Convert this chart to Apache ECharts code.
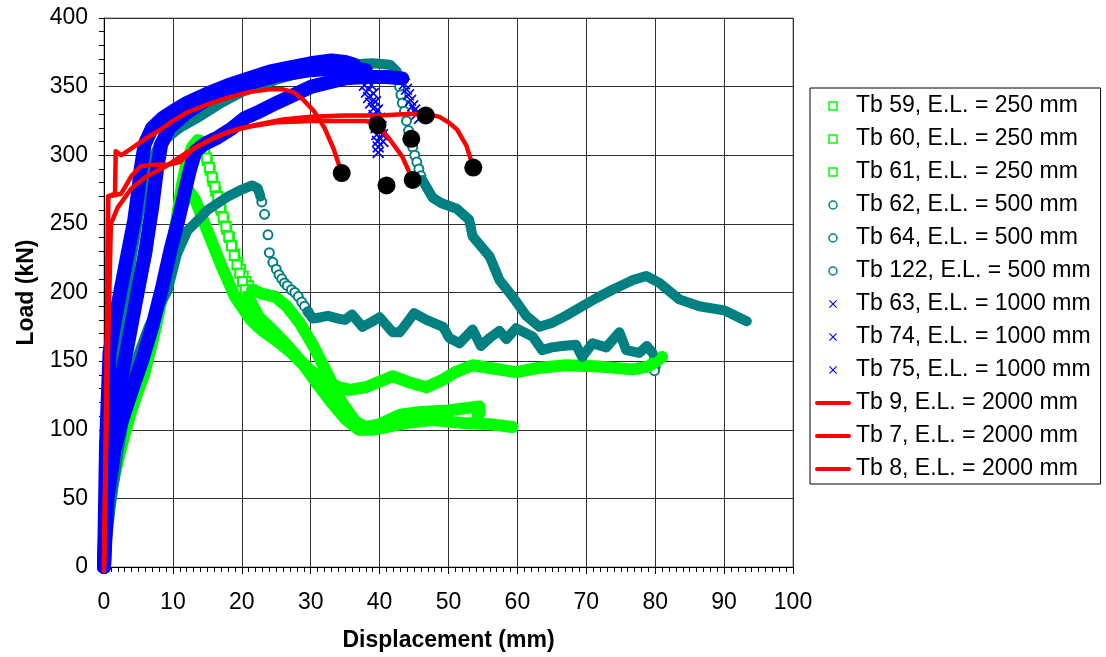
<!DOCTYPE html>
<html>
<head>
<meta charset="utf-8">
<script src="https://cdn.jsdelivr.net/npm/echarts@6/dist/echarts.min.js"></script>
<style>
  html, body { margin: 0; padding: 0; background: #fff; }
  #chart { width: 1106px; height: 657px; }
</style>
</head>
<body>
<div id="chart"></div>
<script>
// Load–displacement curves of tube specimens, grouped by effective length (E.L.)
const X_TICKS = [0, 10, 20, 30, 40, 50, 60, 70, 80, 90, 100];
const Y_TICKS = [0, 50, 100, 150, 200, 250, 300, 350, 400];
const GAP = ['-', '-'];

// E.L. = 250 mm (green squares)
const TB59_BAND = [[0,0],[0.3,30],[0.8,50],[1.6,70],[2.5,90],[3.5,108],[4.5,123],[5.5,138],[6.5,155],[7.5,175],[8.5,200],[9.5,225],[10.5,252],[11.3,278],[12,295],[12.8,306],[13.6,311],[14.2,310],
  GAP,[21.5,202],[23,199],[24.8,197],[26.5,190],[28.4,178],[30.5,160],[32.5,140],[34.5,120],[36.5,106],[38,102],[40,104],[43,111],[46,113],[50,114],[54.5,117],[54.5,112]];
const TB59_MARKS = [[14.6,303],[15,296],[15.4,289],[15.8,281],[16.2,274],[16.6,267],[17,260],[17.4,253],[17.8,246],[18.2,240],[18.6,234],[19,228],[19.4,222],[19.8,217],[20.2,212],[20.6,208],[21,205],[21.5,202],[54.2,116],[54.2,112]];
const TB60_BAND = [[0,0],[0.4,35],[1,55],[1.8,73],[2.7,92],[3.7,110],[4.7,125],[5.8,140],[6.8,160],[7.8,182],[8.8,205],[9.8,230],[10.8,255],[11.6,278],[12.5,298],[13.4,306],[14.3,307],
  GAP,[20.9,197],[22.5,182],[24.8,171],[26.5,162],[28.4,151],[30,143],[32,136],[34,131],[35.7,129],[38,131],[41.9,139],[44,135],[46.8,131],[49,136],[51,142],[53.5,147],[56,145],[59.8,142],[63,145],[67,147],[72,146],[76.7,144],[79,146],[81,153]];
const TB60_MARKS = [[14.9,298],[15.3,291],[15.7,284],[16.1,277],[16.5,270],[16.9,262],[17.3,255],[17.7,248],[18.1,241],[18.5,234],[18.9,227],[19.3,220],[19.7,214],[20.1,208],[20.5,202],[20.9,197]];
const TB61_BAND = [[0,0],[0.5,40],[1.2,60],[2,78],[3,97],[4,115],[5,130],[6,145],[7,165],[8,188],[9,212],[10,238],[11,258],[12.3,274],[13.2,268],[15,245],[17,220],[19,197],[21.3,180],[23,172],[25,165],[27,157],[29,147],[31,133],[33,120],[35,108],[37,100],[39,100],[41,102],[44,105],[47.7,107],[52,105],[56,104],[59.3,102]];

// E.L. = 500 mm (teal circles)
const TB62_BAND = [[0,0],[1,45],[2,80],[3,110],[4,135],[5,155],[6.5,175],[8,190],[9.2,201],[10.6,228],[12.1,245],[13.5,252],[15,260],[18,270],[20,275],[21.5,278],[22.3,276],[22.7,270],
  GAP,[29.6,186],[30.3,181],[31.5,182],[32.5,183],[34,181],[35,180],[36,184],[37.5,175],[39,179],[40,182],[41.9,171],[42.9,171],[44,178],[45,185],[46.8,180],[49.2,175],[50.1,167],[51.6,163],[53.5,173],[54.7,161],[56,167],[57.4,172],[58.4,166],[59.8,174],[62.2,168],[63.6,158],[65,160],[66.5,161],[68.5,162],[69.4,153],[70.9,163],[72.9,160],[74.8,171],[75.8,158],[77.7,156],[78.8,161],[79.6,156]];
const TB62_MARKS = [[22.9,266],[23.3,257],[23.8,242],[24,229],[24.5,222],[25,217],[25.4,213],[25.8,210],[26.2,207],[26.6,205],[27.2,202],[27.7,200],[28.2,197],[28.7,193],[29.1,190],[29.6,186],[79.9,152],[80,149],[80,146],[79.9,143]];
const TB64_BAND = [[0,0],[1,70],[2,119],[3,150],[4.5,185],[6.3,229],[7,260],[7.75,300],[9,312],[11,320],[13.5,327],[17,338],[20,346],[25,355],[30,362],[35,366],[39,367],[41.5,366],[42.5,361],
  GAP,[46.2,282],[47.7,269],[49,265],[51.2,261],[53,253],[53.5,241],[56,226],[57.4,209],[59.3,197],[61.3,183],[63.2,175],[65.1,178],[67,183],[69.4,190],[71.5,196],[73.8,202],[76.7,209],[78.7,212],[80.6,207],[83.5,195],[86.4,190],[90,187],[92.9,180],[93.3,179]];
const TB64_MARKS = [[42.7,356],[42.9,350],[43.1,344],[43.3,338],[43.6,332],[43.9,325],[44.2,318],[44.5,312],[44.8,306],[45.1,300],[45.4,295],[45.7,290],[46,285]];
const TB122_BAND = [[0,0],[0.5,60],[1,100],[2,150],[3,190],[4,225],[5,255],[6,278],[7,296],[8,308],[10,320],[13,332],[16,341],[20,350],[25,357],[30,362],[34,364],[37,363]];

// E.L. = 1000 mm (blue crosses)
const TB63_BAND = [[0,0],[0.3,90],[0.8,156],[1.6,180],[2.5,204],[3.5,230],[4.4,253],[5,275],[5.3,289],[5.9,308],[7,320],[8.5,327],[10,332],[12,338],[15,345],[18,351],[21,356],[24,361],[27,364],[30,367],[33,369],[35,368],[36.3,366]];
const TB63_MARKS = [[36.7,363],[37.1,360],[37.4,356],[37.8,351],[38.1,346],[38.4,342],[38.7,338],[39.1,334],[39.2,329],[39.4,325],[39.5,320],[39.6,315],[39.7,310],[39.8,306],[39.8,302]];
const TB74_BAND = [[0,0],[0.5,70],[1.5,110],[3,150],[4.5,190],[6,230],[7,262],[7.7,290],[8.3,308],[9.5,320],[12,331],[15,341],[20,351],[25,358],[30,362],[35,364],[38,362]];
const TB74_MARKS = [[38.4,357],[38.8,351],[39.1,345],[39.4,339],[39.7,333],[40,327],[40.2,321],[40.4,315],[40.5,310]];
const TB75_BAND = [[0,0],[0.5,50],[1.5,85],[2.5,105],[4,128],[5.5,150],[7,175],[8.5,205],[9.7,232],[10.8,253],[11.8,275],[12.5,290],[13.3,303],[14.5,308],[16.5,313],[18.4,319],[20.4,327],[22.2,331],[25,338],[30.1,350],[35,356],[38,357],[41,357],[43.3,356]];
const TB75_MARKS = [[43.6,352],[43.9,348],[44.2,344],[44.5,340],[44.8,336],[45.1,333],[45.4,330],[45.8,327]];

// E.L. = 2000 mm (red lines)
const TB9_LINE = [[0,-3],[0.3,100],[0.5,200],[0.6,270],[1.6,272],[1.7,303],[2.5,300],[4,305],[6,312],[8,318],[10,325],[12,331],[15,337],[18,342],[21,346],[24,348],[26,348],[27.5,346],[29,340],[30.5,332],[32,320],[33.3,305],[34.5,287]];
const TB7_LINE = [[0,0],[0.4,150],[0.6,270],[2.5,272],[4,285],[5.3,292],[7,293],[9.3,293],[11,295],[13,305],[16,313],[20,320],[25,324],[30,325],[35,325],[38,325],[39.7,322],[41.4,312],[43.3,299],[44.8,282]];
const TB8_LINE = [[0,0],[0.5,140],[1,250],[2,262],[4,276],[6,284],[9,292],[12,302],[15,310],[18,317],[22,322],[26,326],[30,328],[35,329],[40,329],[44,330],[47,330],[48.7,328],[50,324],[51.2,319],[52.6,307],[53.6,291]];

// End-of-test points
const END_POINTS = [[34.5,287],[39.7,322],[41,278],[44.6,312],[44.8,282],[46.7,329],[53.6,291]];

const NAMES = {
  tb59: 'Tb 59, E.L. = 250 mm', tb60: 'Tb 60, E.L. = 250 mm', tb61: 'Tb 61, E.L. = 250 mm',
  tb62: 'Tb 62, E.L. = 500 mm', tb64: 'Tb 64, E.L. = 500 mm', tb122: 'Tb 122, E.L. = 500 mm',
  tb63: 'Tb 63, E.L. = 1000 mm', tb74: 'Tb 74, E.L. = 1000 mm', tb75: 'Tb 75, E.L. = 1000 mm',
  tb9: 'Tb 9, E.L. = 2000 mm', tb7: 'Tb 7, E.L. = 2000 mm', tb8: 'Tb 8, E.L. = 2000 mm'
};

const GREEN = '#00FF00', TEAL = '#008080', BLUE = '#0000FF', RED = '#FF0000';
const FONT = '"Liberation Sans", Arial, sans-serif';
const SQUARE = 'path://M0 0H10V10H0Z';
const CROSS = 'path://M1 0L5 4L9 0L10 1L6 5L10 9L9 10L5 6L1 10L0 9L4 5L0 1Z';
const BAR = 'path://M2 0H34A2 2 0 0 1 34 4H2A2 2 0 0 1 2 0Z';

function band(name, data, color, width) {
  return {
    name, type: 'line', data, showSymbol: false, symbol: 'none', connectNulls: false,
    lineStyle: { color, width, cap: 'round', join: 'round' }, itemStyle: { color },
    emphasis: { disabled: true }, silent: true
  };
}
function marks(name, data, color, symbol, size) {
  return {
    name, type: 'scatter', data, symbol, symbolSize: size,
    itemStyle: symbol === CROSS ? { color, opacity: 1 } : { color, borderColor: color, borderWidth: 1.4, opacity: 1 },
    emphasis: { disabled: true }, silent: true
  };
}

const series = [
  band(NAMES.tb59, TB59_BAND, GREEN, 12),
  marks(NAMES.tb59, TB59_MARKS, GREEN, 'emptyRect', 9),
  band(NAMES.tb60, TB60_BAND, GREEN, 12),
  marks(NAMES.tb60, TB60_MARKS, GREEN, 'emptyRect', 9),
  band(NAMES.tb61, TB61_BAND, GREEN, 12),
  band(NAMES.tb62, TB62_BAND, TEAL, 10),
  marks(NAMES.tb62, TB62_MARKS, TEAL, 'emptyCircle', 9),
  band(NAMES.tb64, TB64_BAND, TEAL, 10),
  marks(NAMES.tb64, TB64_MARKS, TEAL, 'emptyCircle', 9),
  band(NAMES.tb122, TB122_BAND, TEAL, 10),
  band(NAMES.tb63, TB63_BAND, BLUE, 14),
  marks(NAMES.tb63, TB63_MARKS, BLUE, CROSS, 12),
  band(NAMES.tb74, TB74_BAND, BLUE, 14),
  marks(NAMES.tb74, TB74_MARKS, BLUE, CROSS, 12),
  band(NAMES.tb75, TB75_BAND, BLUE, 14),
  marks(NAMES.tb75, TB75_MARKS, BLUE, CROSS, 12),
  { ...band(NAMES.tb9, TB9_LINE, RED, 4.5), clip: false },
  { ...band(NAMES.tb7, TB7_LINE, RED, 4.5), clip: false },
  { ...band(NAMES.tb8, TB8_LINE, RED, 4.5), clip: false },
  { name: 'end', type: 'scatter', data: END_POINTS, symbol: 'circle', symbolSize: 18,
    itemStyle: { color: '#000', opacity: 1 }, silent: true, z: 5 }
];

const legendData = [
  { name: NAMES.tb59, icon: SQUARE, itemStyle: { color: '#fff', borderColor: GREEN, borderWidth: 1.5 } },
  { name: NAMES.tb60, icon: SQUARE, itemStyle: { color: '#fff', borderColor: GREEN, borderWidth: 1.5 } },
  { name: NAMES.tb61, icon: SQUARE, itemStyle: { color: '#fff', borderColor: GREEN, borderWidth: 1.5 } },
  { name: NAMES.tb62, icon: 'circle', itemStyle: { color: '#fff', borderColor: TEAL, borderWidth: 1.5 } },
  { name: NAMES.tb64, icon: 'circle', itemStyle: { color: '#fff', borderColor: TEAL, borderWidth: 1.5 } },
  { name: NAMES.tb122, icon: 'circle', itemStyle: { color: '#fff', borderColor: TEAL, borderWidth: 1.5 } },
  { name: NAMES.tb63, icon: CROSS, itemStyle: { color: BLUE, borderWidth: 0 } },
  { name: NAMES.tb74, icon: CROSS, itemStyle: { color: BLUE, borderWidth: 0 } },
  { name: NAMES.tb75, icon: CROSS, itemStyle: { color: BLUE, borderWidth: 0 } },
  { name: NAMES.tb9, icon: BAR, itemStyle: { color: RED, borderWidth: 0 } },
  { name: NAMES.tb7, icon: BAR, itemStyle: { color: RED, borderWidth: 0 } },
  { name: NAMES.tb8, icon: BAR, itemStyle: { color: RED, borderWidth: 0 } }
];

const chart = echarts.init(document.getElementById('chart'));
chart.setOption({
  animation: false,
  backgroundColor: '#fff',
  textStyle: { fontFamily: FONT, color: '#000' },
  grid: { left: 104, right: 313, top: 18, bottom: 90, show: true, borderColor: '#808080', borderWidth: 1 },
  legend: {
    orient: 'vertical', left: 810, top: 88,
    padding: [6, 10, 3, 5],
    borderColor: '#000', borderWidth: 1,
    itemWidth: 36, itemHeight: 8, itemGap: 9,
    selectedMode: false,
    textStyle: { fontSize: 23, color: '#000', fontFamily: FONT, lineHeight: 24 },
    data: legendData
  },
  xAxis: {
    type: 'value', min: X_TICKS[0], max: X_TICKS[X_TICKS.length - 1], interval: 10,
    name: 'Displacement (mm)', nameLocation: 'middle', nameGap: 62,
    nameTextStyle: { fontSize: 23, fontWeight: 'bold', color: '#000', fontFamily: FONT },
    axisLine: { onZero: false, lineStyle: { color: '#000', width: 1 } },
    axisTick: { show: true, inside: false, length: 7, lineStyle: { color: '#000' } },
    minorTick: { show: true, splitNumber: 10, length: 5, lineStyle: { color: '#000' } },
    splitLine: { show: true, lineStyle: { color: '#303030', width: 1 } },
    axisLabel: { fontSize: 23, color: '#000', margin: 24, fontFamily: FONT,
      formatter: v => X_TICKS.includes(v) ? String(v) : '' }
  },
  yAxis: {
    type: 'value', min: Y_TICKS[0], max: Y_TICKS[Y_TICKS.length - 1], interval: 50,
    name: 'Load (kN)', nameLocation: 'middle', nameGap: 66, nameRotate: 90,
    nameTextStyle: { fontSize: 23, fontWeight: 'bold', color: '#000', fontFamily: FONT },
    axisLine: { onZero: false, lineStyle: { color: '#000', width: 1 } },
    axisTick: { show: true, inside: false, length: 5, lineStyle: { color: '#000' } },
    minorTick: { show: true, splitNumber: 5, length: 5, lineStyle: { color: '#000' } },
    splitLine: { show: true, lineStyle: { color: '#303030', width: 1 } },
    axisLabel: { fontSize: 23, color: '#000', margin: 16, fontFamily: FONT,
      formatter: v => Y_TICKS.includes(v) ? String(v) : '' }
  },
  series
});
</script>
</body>
</html>
